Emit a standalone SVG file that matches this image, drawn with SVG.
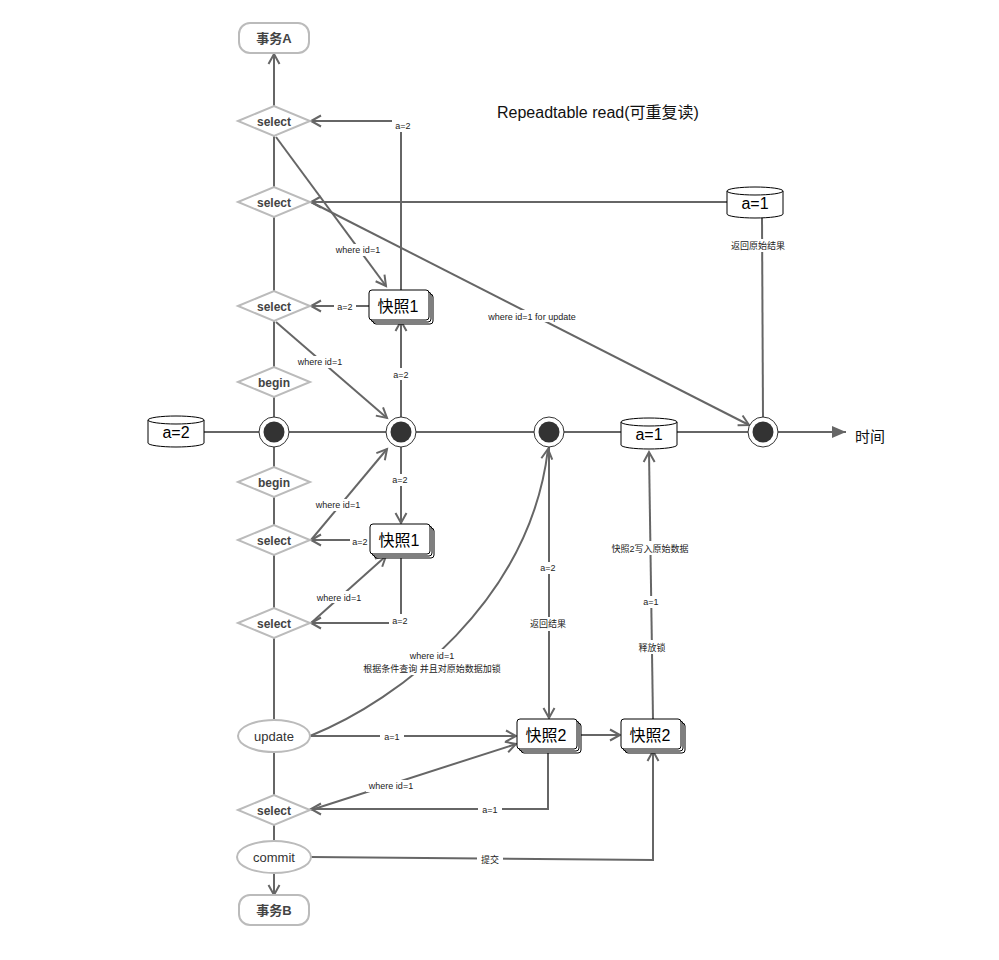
<svg xmlns="http://www.w3.org/2000/svg" xmlns:xlink="http://www.w3.org/1999/xlink" width="999" height="960" viewBox="0 0 999 960">
  <style>
    text { font-family: "Liberation Sans", "Noto Sans CJK SC", sans-serif; }
    .edge { fill: none; stroke: #666; stroke-width: 2; }
    .arrow { marker-end: url(#open); }
    .lbl { font-size: 9px; fill: #222; text-anchor: middle; }
    .lblbg { fill: #fff; }
    .dia { fill: #fff; stroke: #bbb; stroke-width: 2; }
    .dtxt { font-size: 12px; font-weight: bold; fill: #444; text-anchor: middle; }
    .oval { fill: #fff; stroke: #bbb; stroke-width: 2; }
    .otxt { font-size: 13px; fill: #333; text-anchor: middle; }
    .term { fill: #fff; stroke: #bbb; stroke-width: 2; }
    .ttxt { font-size: 13px; font-weight: bold; fill: #444; text-anchor: middle; }
    .cyl { fill: #fff; stroke: #000; stroke-width: 1; }
    .ctxt { font-size: 16px; fill: #000; text-anchor: middle; }
    .snap { fill: #fff; stroke: #000; stroke-width: 1; }
    .stxt { font-size: 16px; fill: #000; text-anchor: middle; }
    .ring { fill: #fff; stroke: #333; stroke-width: 1; }
    .dot { fill: #333; }
  </style>
  <defs>
    <marker id="open" markerUnits="userSpaceOnUse" markerWidth="14" markerHeight="14" refX="11" refY="7" orient="auto">
      <path d="M1,1.5 L11,7 L1,12.5" fill="none" stroke="#666" stroke-width="2"/>
    </marker>
    <marker id="solid" markerUnits="userSpaceOnUse" markerWidth="16" markerHeight="12" refX="14" refY="6" orient="auto">
      <path d="M0,0 L14,6 L0,12 Z" fill="#666"/>
    </marker>
    <!-- stacked snapshot card -->
    <g id="snapShape">
      <rect class="snap" x="4" y="4" width="60" height="30" rx="3"/>
      <rect class="snap" x="2" y="2" width="60" height="30" rx="3"/>
      <rect class="snap" x="0" y="0" width="60" height="30" rx="3"/>
    </g>
    <!-- data cylinder -->
    <g id="cylShape">
      <path class="cyl" d="M0,4 A28,4 0 0 1 56,4 V27 A28,4 0 0 1 0,27 Z"/>
      <path d="M0,4 A28,4 0 0 0 56,4" fill="none" stroke="#000" stroke-width="1"/>
    </g>
    <polygon id="diamond" points="-36,0 0,-15 36,0 0,15"/>
  </defs>

  <rect width="999" height="960" fill="#fff"/>

  <text x="497" y="118" font-size="16" fill="#111">Repeadtable read(可重复读)</text>

  <g id="connectors">
    <!-- transaction trunk -->
    <path class="edge" d="M274,136 V842"/>
    <path class="edge arrow" d="M274,106 V54"/>
    <path class="edge arrow" d="M274,873 V895"/>
    <!-- time axis -->
    <path class="edge" d="M204,432 H846" marker-end="url(#solid)"/>

    <!-- transaction A side -->
    <path class="edge arrow" d="M401,290 V121 H311"/>
    <path class="edge arrow" d="M276,137 L386,286"/>
    <path class="edge arrow" d="M369,306 H311"/>
    <path class="edge arrow" d="M276,322 L387,418"/>
    <path class="edge arrow" d="M401,417 V321"/>
    <path class="edge arrow" d="M728,202 H311"/>
    <path class="edge arrow" d="M311,202 L749,425"/>
    <path class="edge" d="M762,218 L763,417"/>

    <!-- transaction B side -->
    <path class="edge arrow" d="M401,447 V523"/>
    <path class="edge arrow" d="M311,540 L387,449"/>
    <path class="edge arrow" d="M369,540 H311"/>
    <path class="edge arrow" d="M311,623 L386,556"/>
    <path class="edge arrow" d="M401,555 V623 H311"/>
    <path class="edge arrow" d="M310,736 C400,700 530,600 548,449"/>
    <path class="edge arrow" d="M310,736 H516"/>
    <path class="edge arrow" d="M311,810 L516,744"/>
    <path class="edge arrow" d="M548,750 V809 H311"/>
    <path class="edge arrow" d="M549,447 V718"/>
    <path class="edge arrow" d="M578,735 H620"/>
    <path class="edge arrow" d="M653,719 L649,452"/>
    <path class="edge arrow" d="M311,857 L653,860 V751"/>

    <!-- edge labels -->
    <g id="labels">
      <rect class="lblbg" x="392" y="120" width="22" height="12"/>
      <text class="lbl" x="403" y="129">a=2</text>

      <rect class="lblbg" x="333" y="244" width="50" height="12"/>
      <text class="lbl" x="358" y="253">where id=1</text>

      <rect class="lblbg" x="334" y="300" width="22" height="12"/>
      <text class="lbl" x="345" y="309.5">a=2</text>

      <rect class="lblbg" x="295" y="356" width="50" height="12"/>
      <text class="lbl" x="320" y="364.5">where id=1</text>

      <rect class="lblbg" x="390" y="368" width="22" height="12"/>
      <text class="lbl" x="401" y="377.5">a=2</text>

      <rect class="lblbg" x="483" y="310" width="98" height="12"/>
      <text class="lbl" x="532" y="319.5">where id=1 for update</text>

      <rect class="lblbg" x="728" y="239" width="60" height="13"/>
      <text class="lbl" x="758" y="248.5">返回原始结果</text>

      <rect class="lblbg" x="389" y="474" width="22" height="12"/>
      <text class="lbl" x="400" y="483">a=2</text>

      <rect class="lblbg" x="313" y="499" width="50" height="12"/>
      <text class="lbl" x="338" y="507.5">where id=1</text>

      <rect class="lblbg" x="350" y="535" width="19" height="12"/>
      <text class="lbl" x="360" y="544.5">a=2</text>

      <rect class="lblbg" x="314" y="591" width="50" height="12"/>
      <text class="lbl" x="339" y="600.5">where id=1</text>

      <rect class="lblbg" x="389" y="614" width="22" height="12"/>
      <text class="lbl" x="400" y="623.5">a=2</text>

      <rect class="lblbg" x="360" y="649" width="144" height="26"/>
      <text class="lbl" x="432" y="659">where id=1</text>
      <text class="lbl" x="432" y="671.5">根据条件查询 并且对原始数据加锁</text>

      <rect class="lblbg" x="380" y="731" width="24" height="12"/>
      <text class="lbl" x="392" y="740">a=1</text>

      <rect class="lblbg" x="366" y="780" width="50" height="12"/>
      <text class="lbl" x="391" y="789">where id=1</text>

      <rect class="lblbg" x="478" y="804" width="24" height="12"/>
      <text class="lbl" x="490" y="813">a=1</text>

      <rect class="lblbg" x="477" y="852" width="26" height="14"/>
      <text class="lbl" x="490" y="862.5">提交</text>

      <rect class="lblbg" x="537" y="562" width="22" height="12"/>
      <text class="lbl" x="548" y="571">a=2</text>

      <rect class="lblbg" x="527" y="617" width="42" height="14"/>
      <text class="lbl" x="548" y="627">返回结果</text>

      <rect class="lblbg" x="608" y="541" width="84" height="14"/>
      <text class="lbl" x="650" y="551.5">快照2写入原始数据</text>

      <rect class="lblbg" x="640" y="596" width="22" height="12"/>
      <text class="lbl" x="651" y="605">a=1</text>

      <rect class="lblbg" x="636" y="640" width="32" height="14"/>
      <text class="lbl" x="652" y="650.5">释放锁</text>
    </g>
  </g>

  <!-- transaction terminals -->
  <g id="txA">
    <rect class="term" x="239" y="23" width="70" height="30" rx="11"/>
    <text class="ttxt" x="274" y="43">事务A</text>
  </g>
  <g id="txB">
    <rect class="term" x="239" y="895" width="70" height="30" rx="11"/>
    <text class="ttxt" x="274" y="915">事务B</text>
  </g>

  <!-- decision steps -->
  <g id="selectA1">
    <use href="#diamond" class="dia" x="274" y="121"/>
    <text class="dtxt" x="274" y="125.5">select</text>
  </g>
  <g id="selectA2">
    <use href="#diamond" class="dia" x="274" y="202"/>
    <text class="dtxt" x="274" y="206.5">select</text>
  </g>
  <g id="selectA3">
    <use href="#diamond" class="dia" x="274" y="306"/>
    <text class="dtxt" x="274" y="310.5">select</text>
  </g>
  <g id="beginA">
    <use href="#diamond" class="dia" x="274" y="382"/>
    <text class="dtxt" x="274" y="386.5">begin</text>
  </g>
  <g id="beginB">
    <use href="#diamond" class="dia" x="274" y="482"/>
    <text class="dtxt" x="274" y="486.5">begin</text>
  </g>
  <g id="selectB1">
    <use href="#diamond" class="dia" x="274" y="540"/>
    <text class="dtxt" x="274" y="544.5">select</text>
  </g>
  <g id="selectB2">
    <use href="#diamond" class="dia" x="274" y="623"/>
    <text class="dtxt" x="274" y="627.5">select</text>
  </g>
  <g id="updateB">
    <ellipse class="oval" cx="274" cy="736" rx="36" ry="16"/>
    <text class="otxt" x="274" y="741">update</text>
  </g>
  <g id="selectB3">
    <use href="#diamond" class="dia" x="274" y="810"/>
    <text class="dtxt" x="274" y="814.5">select</text>
  </g>
  <g id="commitB">
    <ellipse class="oval" cx="274" cy="857" rx="37" ry="16"/>
    <text class="otxt" x="274" y="862">commit</text>
  </g>

  <!-- time points -->
  <g id="t1"><circle class="ring" cx="274" cy="432" r="15"/><circle class="dot" cx="274" cy="432" r="10.5"/></g>
  <g id="t2"><circle class="ring" cx="401" cy="432" r="15"/><circle class="dot" cx="401" cy="432" r="10.5"/></g>
  <g id="t3"><circle class="ring" cx="549" cy="432" r="15"/><circle class="dot" cx="549" cy="432" r="10.5"/></g>
  <g id="t4"><circle class="ring" cx="763" cy="432" r="15"/><circle class="dot" cx="763" cy="432" r="10.5"/></g>

  <text x="855" y="442" font-size="15" fill="#111">时间</text>

  <!-- stored data -->
  <g id="dataStart">
    <use href="#cylShape" x="148" y="416"/>
    <text class="ctxt" x="176" y="438">a=2</text>
  </g>
  <g id="dataMid">
    <use href="#cylShape" x="621" y="418"/>
    <text class="ctxt" x="649" y="440">a=1</text>
  </g>
  <g id="dataTop">
    <use href="#cylShape" x="727" y="187"/>
    <text class="ctxt" x="755" y="209">a=1</text>
  </g>

  <!-- snapshots -->
  <g id="snap1Upper">
    <use href="#snapShape" x="369" y="290"/>
    <text class="stxt" x="398" y="311.5">快照1</text>
  </g>
  <g id="snap1Lower">
    <use href="#snapShape" x="370" y="524"/>
    <text class="stxt" x="399" y="545.5">快照1</text>
  </g>
  <g id="snap2Left">
    <use href="#snapShape" x="517" y="719"/>
    <text class="stxt" x="546" y="740.5">快照2</text>
  </g>
  <g id="snap2Right">
    <use href="#snapShape" x="621" y="719"/>
    <text class="stxt" x="650" y="740.5">快照2</text>
  </g>
</svg>
